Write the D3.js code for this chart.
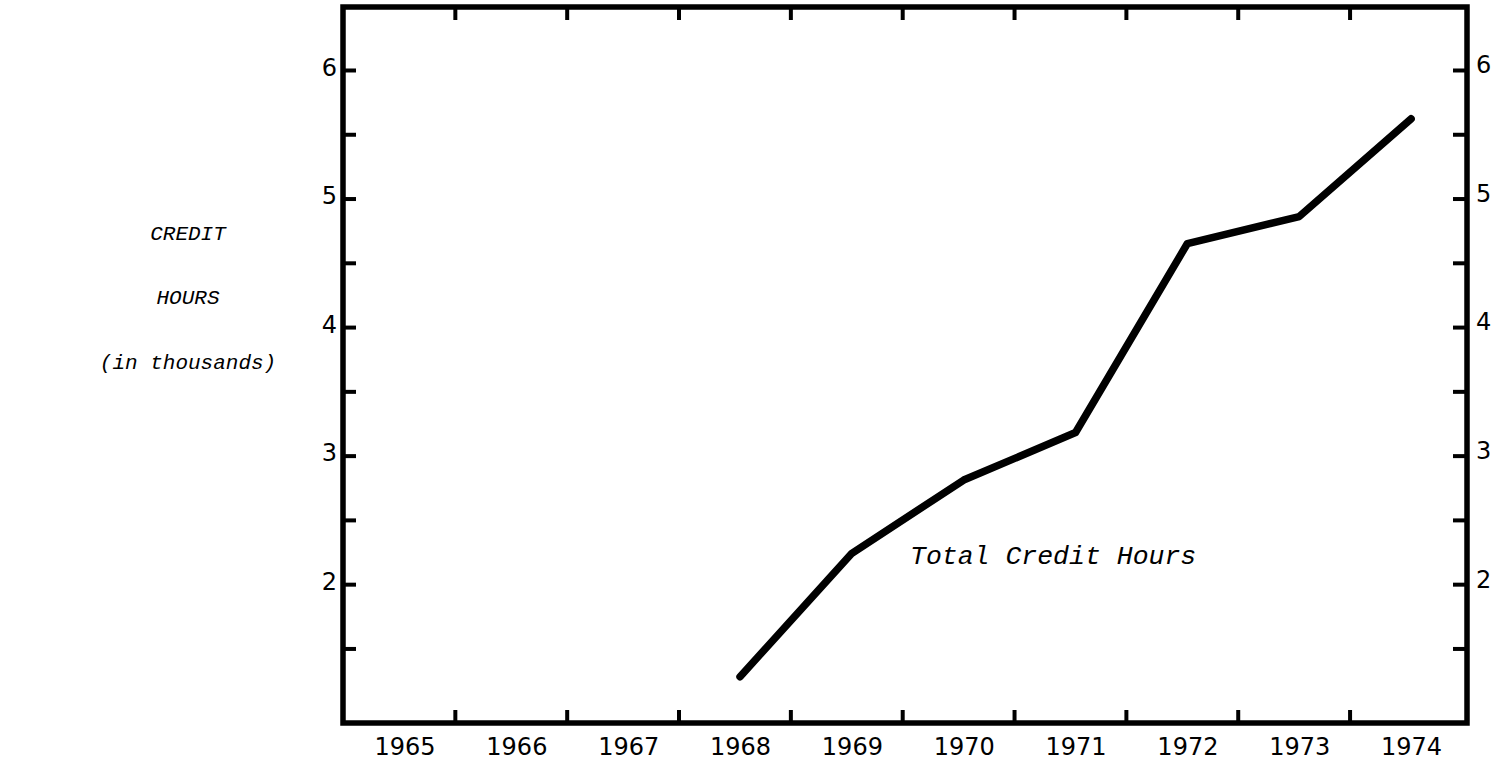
<!DOCTYPE html>
<html lang="en">
<head>
    <meta charset="UTF-8">
    <title>Total Credit Hours 1965-1974</title>
    <style>
        body { margin: 0; background: #fff; }
        .tick-num { font-family: "DejaVu Sans", sans-serif; font-size: 24px; fill: #000; }
        .ital { font-family: "Liberation Mono", monospace; font-style: italic; fill: #000; }
    </style>
</head>
<body>
<div id="chart"></div>

<script src="https://d3js.org/d3.v7.min.js"></script>
<script>
    // data (credit hours, in thousands)
    const years = [1968, 1969, 1970, 1971, 1972, 1973, 1974];
    const creditHours = [1.28, 2.24, 2.81, 3.18, 4.65, 4.86, 5.62];

    // axis ticks
    const yearLabels = [1965, 1966, 1967, 1968, 1969, 1970, 1971, 1972, 1973, 1974];
    const yTicks = [1.5, 2, 2.5, 3, 3.5, 4, 4.5, 5, 5.5, 6];
    const yLabels = [2, 3, 4, 5, 6];

    const svg = d3.select("#chart").append("svg")
        .attr("width", 1508)
        .attr("height", 761);

    const plotLeft = 343, plotRight = 1467, plotTop = 7, plotBottom = 723;

    const x = d3.scaleLinear()
        .domain([1964.45, 1974.5])
        .range([plotLeft, plotRight]);

    const y = d3.scaleLinear()
        .domain([0.92, 6.49])
        .range([plotBottom, plotTop]);

    // year boundaries sit a bit before the midpoint between labels
    const boundaries = yearLabels.slice(0, -1).map(d => d + 0.45);

    function styleTicks(g) {
        g.select(".domain").remove();
        g.selectAll(".tick line").attr("stroke", "#000").attr("stroke-width", 4);
    }

    // left axis
    svg.append("g")
        .attr("transform", `translate(${plotLeft},0)`)
        .call(d3.axisLeft(y).tickValues(yTicks).tickSize(-13).tickPadding(6)
            .tickFormat(d => yLabels.includes(d) ? d : ""))
        .call(styleTicks)
        .selectAll("text").attr("class", "tick-num").attr("dy", "0.22em");

    // right axis
    svg.append("g")
        .attr("transform", `translate(${plotRight},0)`)
        .call(d3.axisRight(y).tickValues(yTicks).tickSize(-14).tickPadding(9)
            .tickFormat(d => yLabels.includes(d) ? d : ""))
        .call(styleTicks)
        .selectAll("text").attr("class", "tick-num").attr("dy", "0.12em");

    // top ticks
    svg.append("g")
        .attr("transform", `translate(0,${plotTop})`)
        .call(d3.axisTop(x).tickValues(boundaries).tickSize(-13).tickFormat(""))
        .call(styleTicks);

    // bottom ticks
    svg.append("g")
        .attr("transform", `translate(0,${plotBottom})`)
        .call(d3.axisBottom(x).tickValues(boundaries).tickSize(-13).tickFormat(""))
        .call(styleTicks);

    // year labels
    svg.append("g")
        .attr("transform", `translate(0,${plotBottom})`)
        .call(d3.axisBottom(x).tickValues(yearLabels).tickSize(0).tickPadding(15)
            .tickFormat(d3.format("d")))
        .call(g => g.select(".domain").remove())
        .selectAll("text").attr("class", "tick-num");

    // frame
    svg.append("rect")
        .attr("x", plotLeft)
        .attr("y", plotTop)
        .attr("width", plotRight - plotLeft)
        .attr("height", plotBottom - plotTop)
        .attr("fill", "none")
        .attr("stroke", "#000")
        .attr("stroke-width", 5.5);

    // the series
    const line = d3.line()
        .x((d, i) => x(years[i]))
        .y(d => y(d));

    svg.append("path")
        .datum(creditHours)
        .attr("d", line)
        .attr("fill", "none")
        .attr("stroke", "#000")
        .attr("stroke-width", 7.5)
        .attr("stroke-linejoin", "round")
        .attr("stroke-linecap", "round");

    // line label
    svg.append("text")
        .attr("class", "ital")
        .attr("x", 910)
        .attr("y", 564)
        .style("font-size", "26.5px")
        .text("Total Credit Hours");

    // y axis title
    const title = svg.append("g").attr("class", "ital").style("font-size", "21px");
    [["CREDIT", 240], ["HOURS", 304], ["(in thousands)", 369]].forEach(([t, ty]) => {
        title.append("text")
            .attr("x", 188)
            .attr("y", ty)
            .attr("text-anchor", "middle")
            .text(t);
    });
</script>
</body>
</html>
